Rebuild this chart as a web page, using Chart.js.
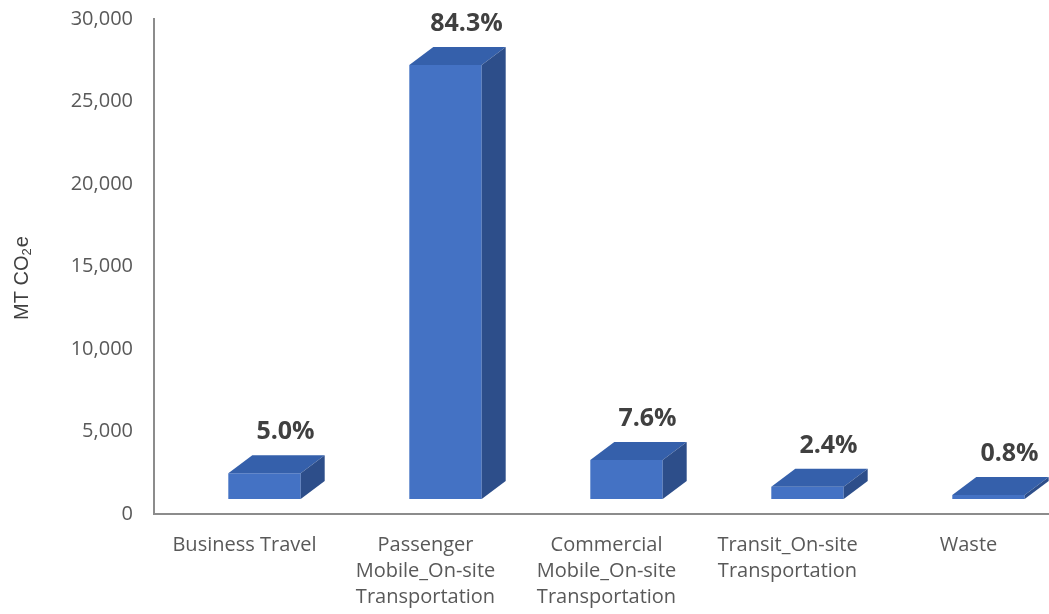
<!DOCTYPE html>
<html>
<head>
<meta charset="utf-8">
<script src="https://cdn.jsdelivr.net/npm/chart.js@4.4.1/dist/chart.umd.min.js"></script>
<style>
  html, body { margin: 0; padding: 0; background: #ffffff; overflow: hidden; }
  #wrap { width: 1059px; height: 614px; position: relative; }
</style>
</head>
<body>
<div id="wrap"><canvas id="c"></canvas></div>
<script>
const categories = [
  "Business Travel",
  ["Passenger", "Mobile_On-site", "Transportation"],
  ["Commercial", "Mobile_On-site", "Transportation"],
  ["Transit_On-site", "Transportation"],
  "Waste"
];
const emissions = [1560, 26300, 2370, 750, 250];
const shareLabels = ["5.0%", "84.3%", "7.6%", "2.4%", "0.8%"];
const yTicks = [0, 5000, 10000, 15000, 20000, 25000, 30000];

const FRONT = "#4472C4";
const TOP = "#3560AB";
const SIDE = "#2D4E8A";
const SHIFT_X = 20, SHIFT_Y = -15;   // bars sit back from the axis floor edge
const DEPTH_X = 24, DEPTH_Y = 18;    // 3D depth of bars

const bar3d = {
  id: "bar3d",
  beforeDatasetsDraw(chart) {
    chart.ctx.save();
    chart.ctx.translate(SHIFT_X, SHIFT_Y);
  },
  afterDatasetsDraw(chart) {
    const ctx = chart.ctx;
    const meta = chart.getDatasetMeta(0);
    meta.data.forEach((el, i) => {
      const p = el.getProps(["x", "y", "base", "width"], true);
      const l = p.x - p.width / 2, r = p.x + p.width / 2;
      ctx.fillStyle = TOP;
      ctx.beginPath();
      ctx.moveTo(l, p.y);
      ctx.lineTo(r, p.y);
      ctx.lineTo(r + DEPTH_X, p.y - DEPTH_Y);
      ctx.lineTo(l + DEPTH_X, p.y - DEPTH_Y);
      ctx.closePath();
      ctx.fill();
      ctx.fillStyle = SIDE;
      ctx.beginPath();
      ctx.moveTo(r, p.y);
      ctx.lineTo(r + DEPTH_X, p.y - DEPTH_Y);
      ctx.lineTo(r + DEPTH_X, p.base - DEPTH_Y);
      ctx.lineTo(r, p.base);
      ctx.closePath();
      ctx.fill();
      ctx.fillStyle = "#404040";
      ctx.font = "bold 25px 'Open Sans', sans-serif";
      ctx.textAlign = "center";
      ctx.textBaseline = "middle";
      ctx.fillText(shareLabels[i], p.x + 21, p.y - DEPTH_Y - 23);
    });
    ctx.restore();
  }
};

const yTitle = {
  id: "yTitle",
  afterDraw(chart) {
    const ctx = chart.ctx;
    ctx.save();
    ctx.translate(22, 278);
    ctx.rotate(-Math.PI / 2);
    ctx.fillStyle = "#404040";
    ctx.textBaseline = "middle";
    ctx.textAlign = "left";
    const big = "20px 'Liberation Sans', Arial, sans-serif";
    const small = "13px 'Liberation Sans', Arial, sans-serif";
    ctx.font = big;
    const a = "MT CO", e = "e", sub = "2";
    const wa = ctx.measureText(a).width, we = ctx.measureText(e).width;
    ctx.font = small;
    const ws = ctx.measureText(sub).width;
    const total = wa + ws + we + 1;
    let x = -total / 2;
    ctx.font = big;
    ctx.fillText(a, x, 0);
    x += wa;
    ctx.font = small;
    ctx.fillText(sub, x, 5);
    x += ws + 1;
    ctx.font = big;
    ctx.fillText(e, x, 0);
    ctx.restore();
  }
};

new Chart(document.getElementById("c"), {
  type: "bar",
  data: {
    labels: categories,
    datasets: [{
      data: emissions,
      backgroundColor: FRONT,
      borderWidth: 0,
      barPercentage: 0.8,
      categoryPercentage: 0.5,
      clip: false
    }]
  },
  options: {
    responsive: true,
    maintainAspectRatio: false,
    animation: false,
    events: [],
    layout: { padding: { top: 19, right: 0, left: 0, bottom: 0 } },
    plugins: { legend: { display: false }, tooltip: { enabled: false } },
    scales: {
      x: {
        grid: { display: false, drawTicks: false },
        border: { display: true, color: "#8c8c8c", width: 2 },
        ticks: {
          color: "#595959",
          font: { family: "'Open Sans', sans-serif", size: 20, lineHeight: 1.3 },
          padding: 18,
          maxRotation: 0,
          autoSkip: false
        },
        afterFit(s) { s.height = 100; s.paddingLeft = 0; s.paddingRight = 0; }
      },
      y: {
        min: 0, max: 30000,
        afterBuildTicks(s) { s.ticks = yTicks.map(v => ({ value: v })); },
        grid: { display: false, drawTicks: false },
        border: { display: true, color: "#8c8c8c", width: 2 },
        ticks: {
          color: "#595959",
          font: { family: "'Open Sans', sans-serif", size: 20 },
          padding: 21,
          callback: v => v.toLocaleString("en-US")
        },
        title: { display: false },
        afterFit(s) { s.width = 154; s.paddingTop = 0; s.paddingBottom = 0; }
      }
    }
  },
  plugins: [bar3d, yTitle]
});
</script>
</body>
</html>
